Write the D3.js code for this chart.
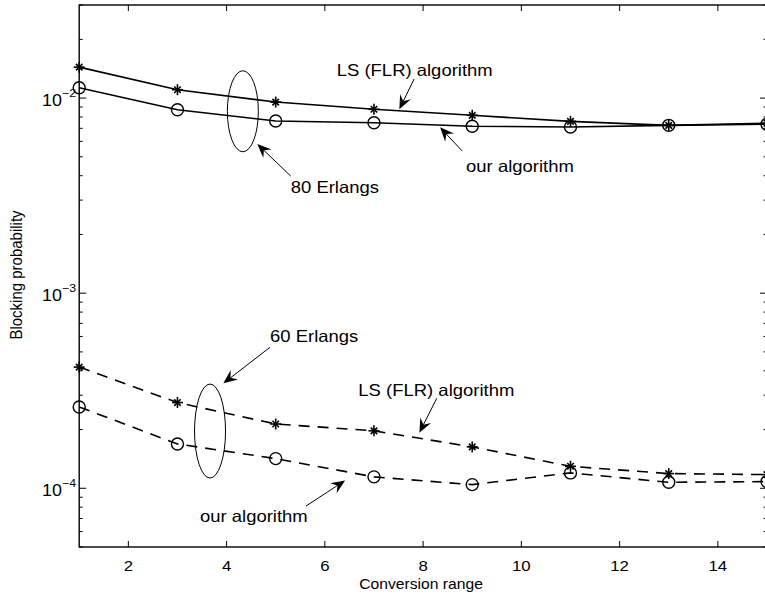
<!DOCTYPE html>
<html>
<head>
<meta charset="utf-8">
<script src="https://cdn.jsdelivr.net/npm/d3@7"></script>
<style>
  html, body { margin: 0; padding: 0; background: #fff; }
  svg { display: block; }
  text { font-family: "Liberation Sans", Arial, Helvetica, sans-serif; fill: #000; }
</style>
</head>
<body>
<svg id="chart" width="765" height="599"></svg>
<script>
// Conversion range values (x) shared by all four curves
const conversionRange = [1, 3, 5, 7, 9, 11, 13, 15];

// Blocking probability, 80 Erlangs load
const ls80  = [0.01441, 0.01104, 0.00954, 0.00876, 0.00816, 0.00760, 0.00725, 0.00743];
const our80 = [0.01130, 0.00872, 0.00763, 0.00748, 0.00717, 0.00711, 0.00725, 0.00734];

// Blocking probability, 60 Erlangs load
const ls60  = [4.18e-4, 2.75e-4, 2.135e-4, 1.97e-4, 1.63e-4, 1.296e-4, 1.189e-4, 1.175e-4];
const our60 = [2.61e-4, 1.687e-4, 1.419e-4, 1.144e-4, 1.044e-4, 1.199e-4, 1.073e-4, 1.082e-4];

// Axis ticks
const xTicks = [2, 4, 6, 8, 10, 12, 14];
const yMajorExponents = [-4, -3, -2];

// Annotation text and arrows, in data units
const labels = [
  { text: "LS (FLR) algorithm", x: 6.242, y: 1.297e-2 },
  { text: "our algorithm",      x: 8.875, y: 4.176e-3 },
  { text: "80 Erlangs",         x: 5.306, y: 3.271e-3 },
  { text: "60 Erlangs",         x: 4.884, y: 5.64e-4 },
  { text: "LS (FLR) algorithm", x: 6.682, y: 2.98e-4 },
  { text: "our algorithm",      x: 3.459, y: 6.74e-5 }
];
const arrows = [
  { x0: 7.816, y0: 1.252e-2, x1: 7.517, y1: 8.755e-3 },
  { x0: 8.793, y0: 5.363e-3, x1: 8.345, y1: 7.079e-3 },
  { x0: 5.306, y0: 3.984e-3, x1: 4.626, y1: 5.813e-3 },
  { x0: 4.884, y0: 5.279e-4, x1: 3.934, y1: 3.45e-4 },
  { x0: 8.278, y0: 2.891e-4, x1: 7.924, y1: 1.926e-4 },
  { x0: 5.617, y0: 8.11e-5,  x1: 6.412, y1: 1.096e-4 }
];
const ellipses = [
  { x: 4.331, y: 8.56e-3 },
  { x: 3.663, y: 1.965e-4 }
];

// ---- layout ----
const svg = d3.select("#chart");
const plotLeft = 79.2, plotRight = 767, plotTop = 5, plotBottom = 547;
const textStretch = 1.12;

const x = d3.scaleLinear().domain([1, 15]).range([plotLeft, plotRight]);
const y = d3.scaleLog().domain([5e-5, 0.03]).range([plotBottom, plotTop]);

const plot = svg.append("g");

// Frame
plot.append("rect")
  .attr("x", plotLeft).attr("y", plotTop)
  .attr("width", plotRight - plotLeft).attr("height", plotBottom - plotTop)
  .attr("fill", "none").attr("stroke", "#000").attr("stroke-width", 1.4);

// X ticks (bottom and top, pointing inward)
const xt = 6;
xTicks.forEach(t => {
  plot.append("line").attr("x1", x(t)).attr("x2", x(t)).attr("y1", plotBottom).attr("y2", plotBottom - xt)
    .attr("stroke", "#000").attr("stroke-width", 1);
  plot.append("line").attr("x1", x(t)).attr("x2", x(t)).attr("y1", plotTop).attr("y2", plotTop + xt)
    .attr("stroke", "#000").attr("stroke-width", 1);
  plot.append("text")
    .attr("transform", `translate(${x(t)},570.5) scale(${textStretch},1)`)
    .attr("text-anchor", "middle").attr("font-size", 15)
    .text(t);
});

// Y ticks: majors at decades, minors at 2..9 x decade
const yTickVals = [];
for (let e = -5; e <= -2; e++) {
  for (let m = 1; m <= 9; m++) {
    const v = m * Math.pow(10, e);
    if (v >= 5e-5 - 1e-12 && v <= 0.03 + 1e-12) yTickVals.push({ v, major: m === 1 });
  }
}
yTickVals.forEach(d => {
  const len = d.major ? 7 : 3.5;
  plot.append("line").attr("x1", plotLeft).attr("x2", plotLeft + len).attr("y1", y(d.v)).attr("y2", y(d.v))
    .attr("stroke", "#000").attr("stroke-width", 1);
  plot.append("line").attr("x1", plotRight).attr("x2", plotRight - len).attr("y1", y(d.v)).attr("y2", y(d.v))
    .attr("stroke", "#000").attr("stroke-width", 1);
});
yMajorExponents.forEach(e => {
  const yy = y(Math.pow(10, e));
  const t = plot.append("text")
    .attr("transform", `translate(76,${yy + 7.5}) scale(${textStretch},1)`)
    .attr("text-anchor", "end").attr("font-size", 16);
  t.append("tspan").text("10");
  t.append("tspan").attr("font-size", 11).attr("dy", -9).text("\u2212" + Math.abs(e));
});

// Axis labels
svg.append("text")
  .attr("transform", `translate(421,589) scale(${textStretch},1)`)
  .attr("text-anchor", "middle").attr("font-size", 14)
  .text("Conversion range");
svg.append("text")
  .attr("transform", `translate(22,275) rotate(-90) scale(1,${textStretch})`)
  .attr("text-anchor", "middle").attr("font-size", 15)
  .text("Blocking probability");

// ---- series ----
const series = [
  { values: ls80,  marker: "star",   dash: null },
  { values: our80, marker: "circle", dash: null },
  { values: ls60,  marker: "star",   dash: "11,8" },
  { values: our60, marker: "circle", dash: "11,8" }
];

const lineGen = d3.line().x(d => x(d[0])).y(d => y(d[1]));

series.forEach(s => {
  const pts = conversionRange.map((c, i) => [c, s.values[i]]);
  plot.append("path")
    .attr("d", lineGen(pts))
    .attr("fill", "none").attr("stroke", "#000").attr("stroke-width", 1.6)
    .attr("stroke-dasharray", s.dash);

  const mk = plot.append("g");
  pts.forEach(p => {
    const cx = x(p[0]), cy = y(p[1]);
    if (s.marker === "circle") {
      mk.append("circle").attr("cx", cx).attr("cy", cy).attr("r", 6)
        .attr("fill", "none").attr("stroke", "#000").attr("stroke-width", 1.4);
    } else {
      // asterisk: plus and cross combined
      const g = mk.append("g").attr("transform", `translate(${cx},${cy})`);
      [0, 45, 90, 135].forEach(a => {
        const rad = a * Math.PI / 180;
        const r = (a % 90 === 0) ? 5.5 : 4.6;
        g.append("line")
          .attr("x1", -r * Math.sin(rad)).attr("y1", -r * Math.cos(rad))
          .attr("x2", r * Math.sin(rad)).attr("y2", r * Math.cos(rad))
          .attr("stroke", "#000").attr("stroke-width", 1.6);
      });
    }
  });
});

// ---- annotations ----
ellipses.forEach((e, i) => {
  plot.append("ellipse")
    .attr("cx", x(e.x)).attr("cy", y(e.y))
    .attr("rx", 15.5).attr("ry", i === 0 ? 40.5 : 47)
    .attr("fill", "none").attr("stroke", "#000").attr("stroke-width", 1);
});

arrows.forEach(a => {
  const x0 = x(a.x0), y0 = y(a.y0), x1 = x(a.x1), y1 = y(a.y1);
  const ang = Math.atan2(y1 - y0, x1 - x0);
  const headLen = 14, halfW = 6, notch = 9;
  const ux = Math.cos(ang), uy = Math.sin(ang);
  const px = -uy, py = ux;
  plot.append("line")
    .attr("x1", x0).attr("y1", y0)
    .attr("x2", x1 - ux * notch).attr("y2", y1 - uy * notch)
    .attr("stroke", "#000").attr("stroke-width", 1);
  const bx = x1 - ux * headLen, by = y1 - uy * headLen;
  const nx = x1 - ux * notch, ny = y1 - uy * notch;
  plot.append("path")
    .attr("d", `M${x1},${y1} L${bx + px * halfW},${by + py * halfW} L${nx},${ny} L${bx - px * halfW},${by - py * halfW} Z`)
    .attr("fill", "#000");
});

labels.forEach(l => {
  plot.append("text")
    .attr("transform", `translate(${x(l.x)},${y(l.y)}) scale(${textStretch},1)`)
    .attr("font-size", 16.5)
    .text(l.text);
});
</script>
</body>
</html>
